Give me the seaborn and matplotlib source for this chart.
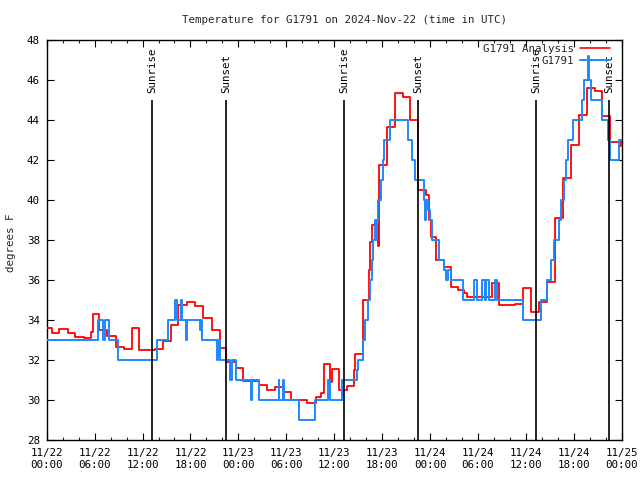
import matplotlib
matplotlib.use("Agg")
import matplotlib.pyplot as plt
from matplotlib.lines import Line2D
from matplotlib.ticker import FixedLocator, MultipleLocator
import seaborn as sns
import pandas as pd

# ---- data (hours since 2024-11-22 00:00 UTC) ----
analysis_hours = [0.0, 0.7, 1.6, 2.7, 3.6, 4.65, 5.55, 5.8, 6.6, 7.55, 8.65, 9.7, 10.65, 11.6,
                  13.55, 14.6, 15.6, 16.5, 17.6, 18.6, 19.6, 20.65, 21.7, 22.45, 23.7, 24.6,
                  26.6, 27.6, 28.6, 29.6, 30.6, 32.6, 33.7, 34.4, 34.75, 35.5, 35.75, 36.6,
                  37.6, 38.5, 38.6, 39.6, 40.4, 40.5, 40.7, 41.45, 41.55, 41.65, 42.6, 43.6,
                  44.6, 45.5, 46.5, 47.5, 47.9, 48.1, 48.7, 49.7, 50.6, 51.5, 52.2, 52.6,
                  54.6, 55.7, 56.6, 58.6, 59.7, 60.6, 61.7, 62.6, 63.6, 64.6, 65.6, 66.7,
                  67.6, 68.7, 69.5, 70.5, 71.6, 71.9, 72.0]
analysis_temp = [33.6, 33.37, 33.53, 33.37, 33.17, 33.08, 33.42, 34.3, 33.5, 33.22, 32.63, 32.53, 33.58, 32.48,
                 32.57, 32.97, 33.75, 34.75, 34.88, 34.7, 34.12, 33.5, 32.6, 31.92, 31.58, 30.97,
                 30.73, 30.5, 30.65, 30.38, 30.0, 29.83, 30.17, 30.33, 31.78, 30.9, 31.53, 30.5,
                 30.7, 31.5, 32.3, 35.0, 36.5, 37.9, 38.75, 37.7, 40.1, 41.75, 43.67, 45.33,
                 45.17, 44.0, 40.5, 40.25, 39.0, 38.13, 37.0, 36.63, 35.63, 35.5, 35.33, 35.13,
                 35.17, 35.87, 34.75, 34.8, 35.58, 34.42, 34.88, 35.92, 39.08, 41.08, 42.75, 44.25,
                 45.58, 45.47, 44.2, 42.9, 42.7, 43.0, 43.0]

obs_hours = [0.0, 6.38, 7.0, 7.3, 7.84, 8.89, 13.77, 15.2, 16.1, 16.3, 16.8, 17.0, 17.45, 17.6,
             19.2, 19.35, 19.5, 21.3, 21.5, 21.75, 22.95, 23.25, 23.66, 25.55, 25.75, 26.58,
             29.05, 29.15, 29.6, 29.7, 31.6, 33.6, 35.26, 35.47, 37.0, 37.05, 37.14, 38.8,
             39.0, 39.65, 39.9, 40.25, 40.5, 40.7, 40.9, 41.1, 41.2, 41.35, 41.5, 41.8, 42.05,
             42.2, 43.0, 45.2, 45.7, 46.1, 47.2, 47.35, 47.5, 47.7, 48.0, 48.3, 49.1, 49.7,
             50.0, 50.2, 50.6, 52.1, 53.5, 53.9, 54.5, 54.9, 55.0, 55.4, 56.1, 56.35, 59.7,
             61.86, 62.6, 62.65, 63.1, 63.5, 64.1, 64.4, 64.8, 65.0, 65.3, 65.9, 67.0, 67.3,
             67.8, 67.9, 68.1, 69.5, 70.3, 70.5, 71.6, 72.0]
obs_temp = [33, 34, 33, 34, 33, 32, 33, 34, 35, 34, 35, 34, 33, 34,
            33.5, 34, 33, 32, 33, 32, 31, 32, 31, 30, 31, 30,
            31, 30, 31, 30, 29, 30, 31, 30, 31, 30, 31, 31.5,
            32, 33, 34, 35, 36, 37, 38, 39, 38, 39, 40, 41, 42,
            43, 44, 43, 42, 41, 40, 39, 40, 39.5, 39, 38, 37, 36.5,
            36, 36.5, 36, 35, 36, 35, 36, 35, 36, 35, 36, 35, 34,
            35, 35.5, 36, 37, 38, 39, 40, 41, 42, 43, 44, 45, 46,
            47.2, 46, 45, 44, 43, 42, 43, 43]

sun_events = [13.22, 22.45, 37.27, 46.53, 61.31, 70.46]
sun_labels = ["Sunrise", "Sunset", "Sunrise", "Sunset", "Sunrise", "Sunset"]

tick_hours = [0, 6, 12, 18, 24, 30, 36, 42, 48, 54, 60, 66, 72]
tick_labels = ["11/22\n00:00", "11/22\n06:00", "11/22\n12:00", "11/22\n18:00",
               "11/23\n00:00", "11/23\n06:00", "11/23\n12:00", "11/23\n18:00",
               "11/24\n00:00", "11/24\n06:00", "11/24\n12:00", "11/24\n18:00",
               "11/25\n00:00"]
y_ticks = [28, 30, 32, 34, 36, 38, 40, 42, 44, 46, 48]

title = "Temperature for G1791 on 2024-Nov-22 (time in UTC)"

# ---- style ----
sns.set_style("ticks")
FS = 7.8
plt.rcParams["font.family"] = ["DejaVu Sans Mono"]
plt.rcParams["font.size"] = FS

RED = "#ff0000"
BLUE = "#1e88ff"

fig = plt.figure(figsize=(6.4, 4.8), dpi=100)
ax = fig.add_axes([46.7 / 640, 40 / 480, 575 / 640, 400 / 480])

df_a = pd.DataFrame({"hour": analysis_hours, "temp": analysis_temp})
df_o = pd.DataFrame({"hour": obs_hours, "temp": obs_temp})

sns.lineplot(data=df_a, x="hour", y="temp", ax=ax, color=RED, lw=1.3,
             drawstyle="steps-post", estimator=None, sort=False, zorder=3)
sns.lineplot(data=df_o, x="hour", y="temp", ax=ax, color=BLUE, lw=1.4,
             drawstyle="steps-post", estimator=None, sort=False, zorder=4)

ax.set_xlim(0, 72)
ax.set_ylim(28, 48)

y_line_top = 48 - (100 - 40) / 20
y_text_bottom = 48 - (93 - 40) / 20
for h, lab in zip(sun_events, sun_labels):
    ax.vlines(h, 28, y_line_top, color="black", lw=1.2, zorder=5)
    ax.text(h, y_text_bottom, lab, rotation=90, ha="center", va="bottom",
            fontsize=FS, color="black", zorder=6)

ax.xaxis.set_major_locator(FixedLocator(tick_hours))
ax.set_xticklabels(tick_labels, fontsize=FS, linespacing=1.15)
ax.xaxis.set_minor_locator(MultipleLocator(2))
ax.set_yticks(y_ticks)
ax.set_yticklabels([str(v) for v in y_ticks], fontsize=FS)
ax.tick_params(axis="both", which="major", direction="in", length=5, width=0.8,
               top=True, right=True, pad=6, colors="black")
ax.tick_params(axis="x", which="minor", direction="in", length=2.5, width=0.8,
               top=True, bottom=True)
ax.tick_params(axis="y", which="major", pad=5)
ax.tick_params(axis="x", which="major", pad=6)
for s in ax.spines.values():
    s.set_visible(True)
    s.set_linewidth(1.0)
    s.set_color("black")

ax.set_xlabel("")
ax.set_ylabel("")
fig.text(10.7 / 640, 1 - 243 / 480, "degrees F", rotation=90, ha="center", va="center", fontsize=FS)
fig.text(345 / 640, 1 - 20 / 480, title, ha="center", va="center", fontsize=FS)

handles = [Line2D([], [], color=RED, lw=1.2), Line2D([], [], color=BLUE, lw=1.4)]
leg = ax.legend(handles, ["G1791 Analysis", "G1791"], loc="upper right",
                bbox_to_anchor=(609.5 / 640, 1 - 44 / 480), bbox_transform=fig.transFigure,
                frameon=False, markerfirst=False, handlelength=2.7, handletextpad=0.55,
                labelspacing=0.15, borderpad=0, borderaxespad=0, fontsize=FS)
leg.set_zorder(10)

fig.savefig("out.png", dpi=100)
